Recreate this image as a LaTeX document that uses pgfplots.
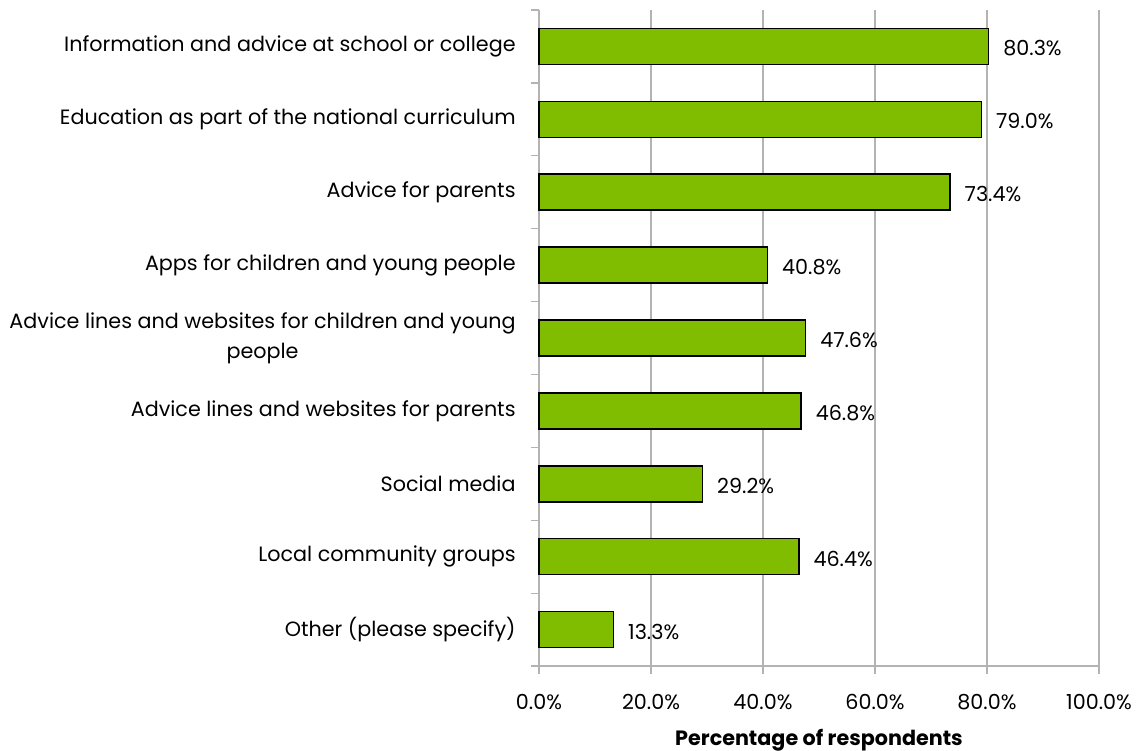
\documentclass[border=0pt]{standalone}
\usepackage{pgfplots}
\pgfplotsset{compat=1.18}
\usepackage{fontspec}
\setmainfont{Poppins}
\definecolor{bargreen}{HTML}{80BC00}
\definecolor{gridgray}{HTML}{B3B3B3}
\newcommand{\fs}{\fontsize{10.35bp}{15bp}\selectfont}
\begin{document}
\fs
\begin{tikzpicture}
\useasboundingbox (-269.5bp,-42.5bp) rectangle (299bp,333bp);
\begin{axis}[
  at={(0,0)}, anchor=south west,
  scale only axis, width=280bp, height=328bp,
  xbar, bar width=18bp,
  xmin=0, xmax=100, ymin=-0.5, ymax=8.5, y dir=reverse,
  xtick={0,20,...,100},
  xticklabels={0.0\%,20.0\%,40.0\%,60.0\%,80.0\%,100.0\%},
  ytick={-0.5,0.5,...,8.5},
  yticklabels={},
  extra y ticks={0,...,8},
  extra y tick labels={Information and advice at school or college,
    Education as part of the national curriculum,
    Advice for parents,
    Apps for children and young people,
    {Advice lines and websites for children and young\\people},
    Advice lines and websites for parents,
    Social media,
    Local community groups,
    Other (please specify)},
  extra y tick style={major tick length=0pt},
  major tick length=4bp,
  tick align=outside,
  tick style={gridgray, line width=0.6bp},
  xmajorgrids, grid style={gridgray, line width=0.6bp},
  axis x line*=bottom, axis y line*=left,
  axis line style={gridgray, line width=0.6bp, -},
  yticklabel style={align=center, anchor=east, inner sep=0pt, xshift=-11.5bp, font=\fs},
  xticklabel style={inner sep=0pt, yshift=-10bp, font=\fs},
  xlabel={\textbf{Percentage of respondents}},
  xlabel style={font=\fs, at={(axis description cs:0.5,0)}, anchor=center, yshift=-37bp},
  nodes near coords={\pgfmathprintnumber[fixed,fixed zerofill,precision=1]{\pgfplotspointmeta}\%},
  nodes near coords style={anchor=west, xshift=3.5bp, yshift=-1bp, font=\fs, /pgf/number format/assume math mode=true},
  clip=false,
]
\addplot[fill=bargreen, draw=black, line width=0.8bp] coordinates {
(80.3,0) (79.0,1) (73.4,2) (40.8,3) (47.6,4) (46.8,5) (29.2,6) (46.4,7) (13.3,8)};
\end{axis}
\end{tikzpicture}
\end{document}
